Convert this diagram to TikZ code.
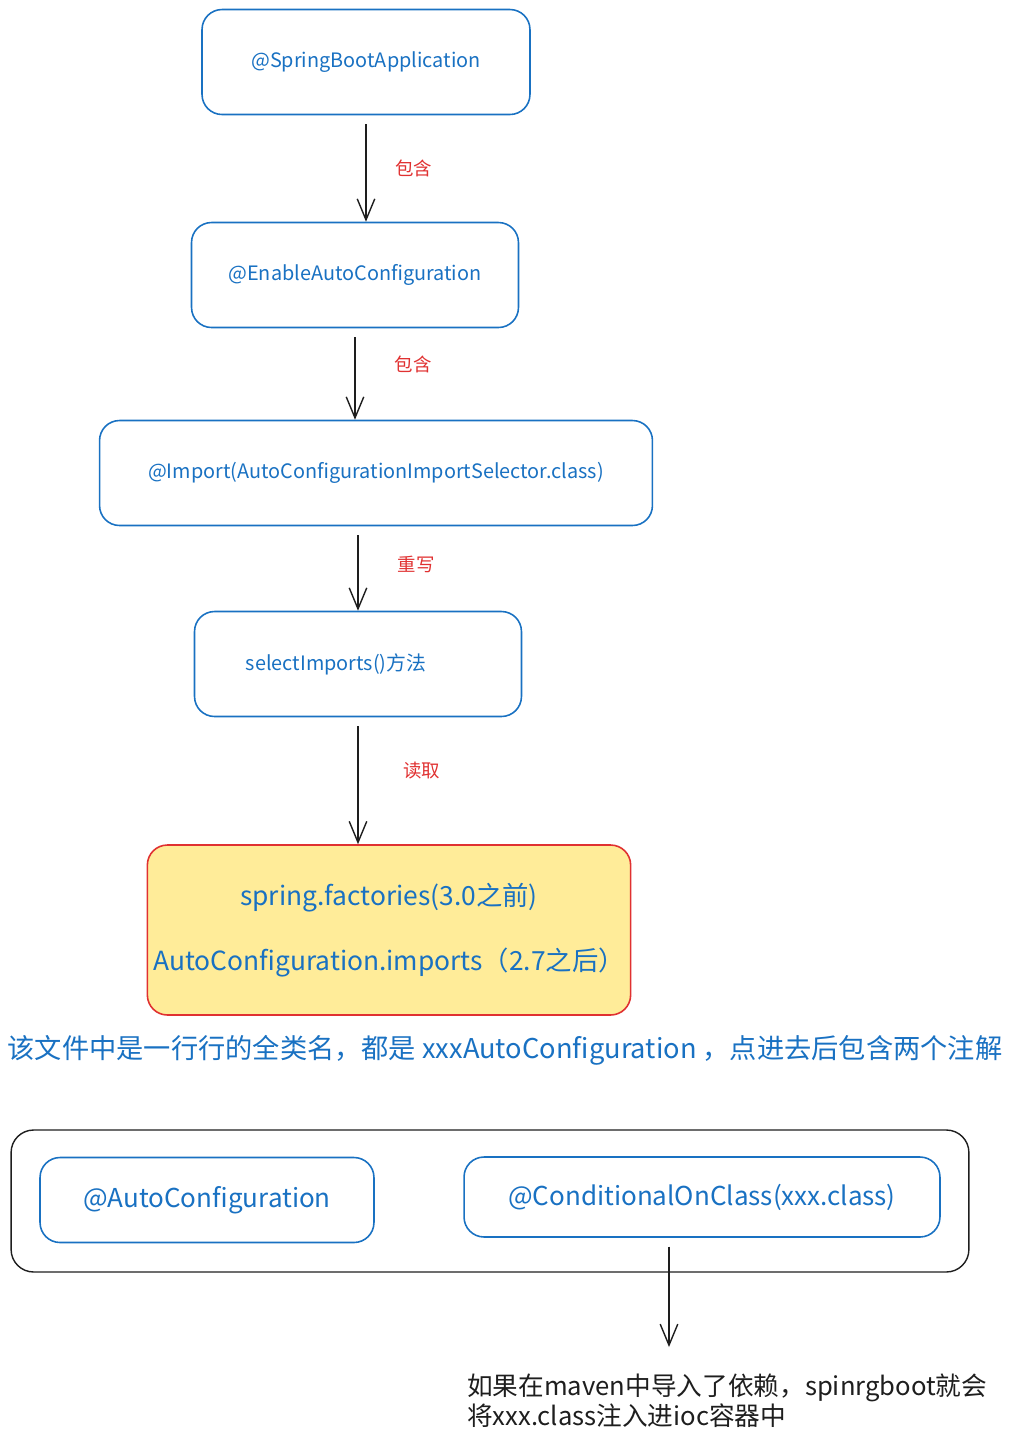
\documentclass[tikz,border=0pt]{standalone}
\usepackage{fontspec}
\setmainfont{Noto Sans CJK SC}
\usetikzlibrary{arrows.meta,calc}
\definecolor{BoxClr}{HTML}{1971C2}
\definecolor{NoteClr}{HTML}{E03131}
\definecolor{FileClr}{HTML}{FFEC99}
\definecolor{InkClr}{HTML}{1E1E1E}

\begin{document}
\begin{tikzpicture}[x=0.02cm,y=-0.02cm,
  box/.style={draw=BoxClr,line width=0.9pt,rounded corners=0.4cm,text=BoxClr,
    minimum height=2.1cm,font=\fontsize{11.3}{13}\selectfont},
  lbl/.style={text=NoteClr,font=\fontsize{10.5}{12}\selectfont},
  arr/.style={-{Straight Barb[length=12pt,width=10pt]},line width=0.8pt,draw=InkClr,
    shorten <=5pt}]
\useasboundingbox (0,0) rectangle (1012,1445);

\node[box,minimum width=6.56cm] (sba) at (366,62) {@SpringBootApplication};
\node[box,minimum width=6.54cm] (eac) at (355,275) {@EnableAutoConfiguration};
\node[box,minimum width=11.06cm] (imp) at (376,473) {@Import(AutoConfigurationImportSelector.class)};
\node[box,minimum width=6.54cm] (sel) at (358,664) {selectImports()方法\kern0.88cm};
\node[box,draw=NoteClr,fill=FileClr,minimum width=9.64cm,minimum height=3.4cm,
  align=center,font=\fontsize{15}{37}\selectfont] (fac) at (389,930)
  {spring.factories(3.0之前)\\AutoConfiguration.imports（2.7之后）};

\draw[arr] (sba) -- (sba |- eac.north) node[lbl,midway,right=13pt] {包含};
\draw[arr] (eac) -- (eac |- imp.north) node[lbl,pos=0.4,right=19pt] {包含};
\draw[arr] (imp.south -| sel) -- (sel) node[lbl,pos=0.45,right=19pt] {重写};
\draw[arr] (sel) -- (sel |- fac.north) node[lbl,pos=0.42,right=22pt] {读取};

\node[text=BoxClr,font=\fontsize{15.5}{18}\selectfont] (desc) at (505,1050)
  {该文件中是一行行的全类名，都是 xxxAutoConfiguration ，点进去后包含两个注解};

\node[draw=InkClr,line width=0.8pt,rounded corners=0.45cm,minimum width=19.16cm,
  minimum height=2.84cm] (grp) at (490,1201) {};
\node[box,minimum width=6.68cm,minimum height=1.7cm,font=\fontsize{14.8}{17}\selectfont]
  (acf) at (207,1200) {@AutoConfiguration};
\node[box,minimum width=9.52cm,minimum height=1.6cm,font=\fontsize{14.8}{17}\selectfont]
  (coc) at (702,1197) {@ConditionalOnClass(xxx.class)};

\node[text=InkClr,anchor=west,align=left,font=\fontsize{14.6}{17}\selectfont] (res) at (461,1401)
  {如果在maven中导入了依赖，spinrgboot就会\\将xxx.class注入进ioc容器中};
\coordinate (tip) at (669,1347);
\draw[arr] (coc.south -| tip) -- (tip);

\end{tikzpicture}
\end{document}
